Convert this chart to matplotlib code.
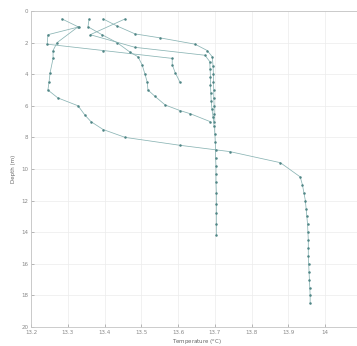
import matplotlib
matplotlib.use("Agg")
import matplotlib.pyplot as plt
import numpy as np

# Profile 1 (deepest)
t1 = [13.284, 13.328, 13.271, 13.260, 13.260, 13.252, 13.249, 13.246, 13.273, 13.328,
      13.347, 13.363, 13.396, 13.456, 13.605, 13.741, 13.878, 13.932, 13.938, 13.942,
      13.946, 13.948, 13.950, 13.952, 13.953, 13.954, 13.954, 13.954, 13.955, 13.956,
      13.957, 13.958, 13.959, 13.959]
d1 = [0.5, 1.0, 2.0, 2.5, 3.0, 3.9, 4.5, 5.0, 5.5, 6.0,
      6.6, 7.0, 7.5, 8.0, 8.5, 8.9, 9.6, 10.5, 11.0, 11.5,
      12.0, 12.5, 13.0, 13.5, 14.0, 14.5, 15.0, 15.5, 16.0, 16.5,
      17.0, 17.5, 18.0, 18.5]

# Profile 2 (short, ends near 13.6)
t2 = [13.331, 13.246, 13.244, 13.396, 13.584, 13.584, 13.592, 13.605]
d2 = [1.0, 1.5, 2.1, 2.5, 3.0, 3.4, 3.9, 4.5]

# Profile 3
t3 = [13.358, 13.355, 13.393, 13.434, 13.469, 13.491, 13.502, 13.510, 13.516, 13.518,
      13.537, 13.565, 13.605, 13.633, 13.687]
d3 = [0.5, 1.0, 1.5, 2.0, 2.6, 2.9, 3.4, 4.0, 4.5, 5.0,
      5.4, 5.95, 6.3, 6.5, 7.0]

# Profile 4
t4 = [13.396, 13.434, 13.483, 13.551, 13.646, 13.679, 13.693, 13.695, 13.696, 13.696,
      13.697, 13.697, 13.698, 13.698, 13.698]
d4 = [0.5, 0.95, 1.45, 1.7, 2.1, 2.5, 2.9, 3.5, 4.0, 4.5,
      5.0, 5.5, 6.0, 6.5, 7.0]

# Profile 5 (vertical to 14 m)
t5 = [13.456, 13.361, 13.483, 13.673, 13.686, 13.687, 13.688, 13.688, 13.689, 13.690,
      13.692, 13.695, 13.698, 13.700, 13.701, 13.702, 13.702, 13.703, 13.703, 13.703,
      13.704, 13.704, 13.704, 13.704, 13.704]
d5 = [0.5, 1.5, 2.3, 2.8, 3.2, 3.7, 4.2, 4.7, 5.2, 5.7,
      6.2, 6.7, 7.3, 7.8, 8.3, 8.8, 9.3, 9.8, 10.3, 10.8,
      11.5, 12.2, 12.8, 13.5, 14.2]

profiles = [(t1, d1), (t2, d2), (t3, d3), (t4, d4), (t5, d5)]

xticks = [13.2, 13.3, 13.4, 13.5, 13.6, 13.7, 13.8, 13.9, 14.0, 14.1]
xticklabels = ["13.2", "13.3", "13.4", "13.5", "13.6", "13.7", "13.8", "13.9", "14", "14.1"]
yticks = [0, 2, 4, 6, 8, 10, 12, 14, 16, 18, 20]

fig = plt.figure(figsize=(3.57, 3.46), dpi=100)
ax = fig.add_axes([31 / 357, 19 / 346, (362 - 31) / 357, (327 - 11) / 346])

for t, d in profiles:
    ax.plot(t, d, color="#8ab4b4", lw=0.55, marker=".", ms=1.6,
            mfc="#4f8585", mec="#4f8585")

ax.set_xlim(13.2, 14.1)
ax.set_ylim(20, 0)
ax.set_xticks(xticks)
ax.set_xticklabels(xticklabels)
ax.set_yticks(yticks)
ax.grid(True, color="#ececec", lw=0.5)
ax.set_axisbelow(True)
ax.tick_params(direction="in", length=2, width=0.4, labelsize=4, colors="#888888",
               pad=2)
for s in ax.spines.values():
    s.set_color("#c4c4c4")
    s.set_linewidth(0.6)
ax.set_xlabel("Temperature ($^{o}$C)", fontsize=4, color="#666666", labelpad=2)
ax.set_ylabel("Depth (m)", fontsize=4, color="#666666", labelpad=4)

fig.savefig("out.png", dpi=100)
